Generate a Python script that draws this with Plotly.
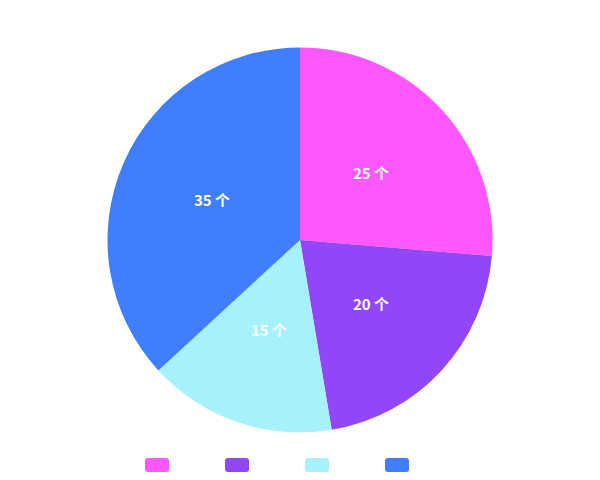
import math
import plotly.graph_objects as go

categories = ["A", "B", "C", "D"]
values = [25, 20, 15, 35]
colors = ["#FF57FF", "#9147F7", "#A6F2FC", "#3F7FFF"]
unit = "个"

W, H = 600, 480
OFF = 8  # page body margin
CX, CY, R = 300 - OFF, 240 - OFF, 192.5

def px(x):
    return x / W

def py(y):
    return 1 - y / H

fig = go.Figure(go.Pie(
    labels=categories,
    values=values,
    textinfo="none",
    marker=dict(colors=colors, line=dict(width=0)),
    sort=False,
    direction="clockwise",
    rotation=0,
    domain=dict(x=[px(CX - R), px(CX + R)], y=[py(CY + R), py(CY - R)]),
    showlegend=False,
    hoverinfo="label+value",
))

# labels at half radius, mid-angle of each slice
annotations = []
total = sum(values)
cum = 0
for v in values:
    mid = (cum + v / 2) / total * 2 * math.pi
    cum += v
    x = CX + 0.5 * R * math.sin(mid)
    y = CY - 0.5 * R * math.cos(mid) - 2
    annotations.append(dict(
        x=px(x), y=py(y), xref="paper", yref="paper",
        text=f"<b>{v} {unit}</b>", showarrow=False,
        font=dict(family="Noto Sans CJK SC", size=15, color="white"),
        xanchor="center", yanchor="middle",
    ))

# custom legend swatches (rounded rectangles, no labels)
shapes = []
sw_w, sw_h, r = 24, 14, 3
for i, c in enumerate(colors):
    cx = 157 - OFF + 80 * i
    cy = 465 - OFF
    x0, x1 = cx - sw_w / 2, cx + sw_w / 2
    y0, y1 = cy - sw_h / 2, cy + sw_h / 2
    path = (f"M {px(x0 + r)},{py(y0)} L {px(x1 - r)},{py(y0)} "
            f"Q {px(x1)},{py(y0)} {px(x1)},{py(y0 + r)} "
            f"L {px(x1)},{py(y1 - r)} Q {px(x1)},{py(y1)} {px(x1 - r)},{py(y1)} "
            f"L {px(x0 + r)},{py(y1)} Q {px(x0)},{py(y1)} {px(x0)},{py(y1 - r)} "
            f"L {px(x0)},{py(y0 + r)} Q {px(x0)},{py(y0)} {px(x0 + r)},{py(y0)} Z")
    shapes.append(dict(type="path", xref="paper", yref="paper", path=path,
                       fillcolor=c, line=dict(width=0)))

fig.update_layout(
    width=W, height=H,
    margin=dict(l=0, r=0, t=0, b=0),
    paper_bgcolor="white",
    plot_bgcolor="white",
    shapes=shapes,
    annotations=annotations,
)

fig.write_html("out.html")
